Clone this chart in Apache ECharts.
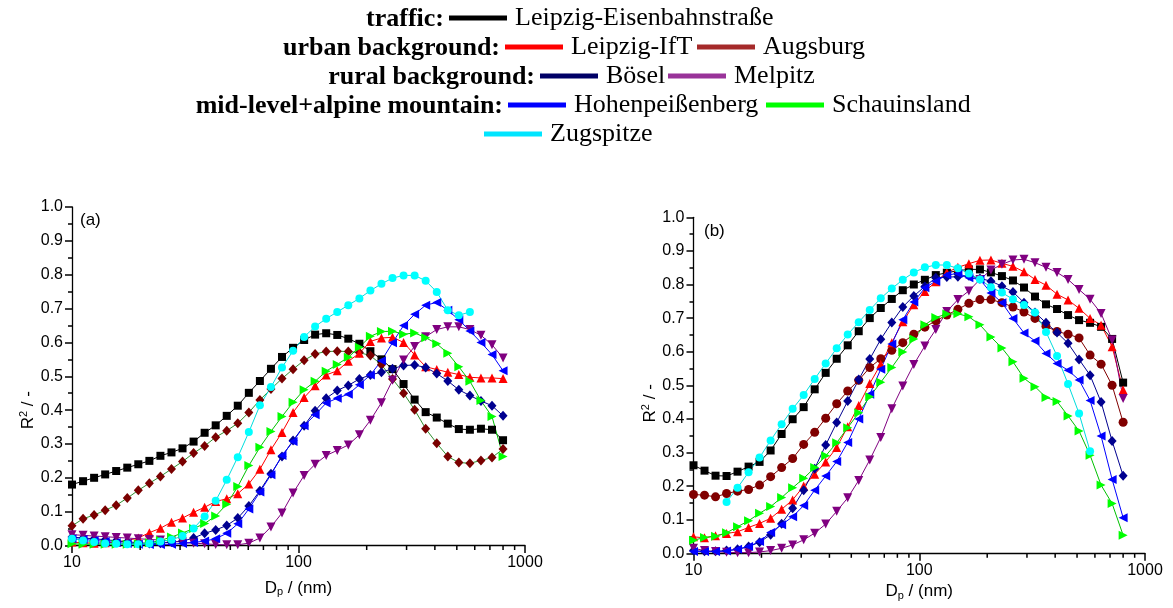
<!DOCTYPE html>
<html>
<head>
<meta charset="utf-8">
<script src="https://cdn.jsdelivr.net/npm/echarts@6/dist/echarts.min.js"></script>
<style>
html,body{margin:0;padding:0;background:#fff;}
#chart{width:1173px;height:608px;}
</style>
</head>
<body>
<div id="chart"></div>
<script>
// ---------- DATA ----------
const diameters = [10.00, 11.19, 12.52, 14.01, 15.67, 17.54, 19.62, 21.96, 24.57, 27.49, 30.76, 34.42, 38.51, 43.09, 48.21, 53.94, 60.36, 67.54, 75.57, 84.55, 94.61, 105.9, 118.4, 132.5, 148.3, 165.9, 185.7, 207.7, 232.4, 260.1, 291.0, 325.6, 364.3, 407.7, 456.2, 510.4, 571.1, 639.0, 715.0, 800.0];
const xMinorTicks = [20, 30, 40, 50, 60, 70, 80, 90, 200, 300, 400, 500, 600, 700, 800, 900];
const xTickLabels = {10:'10', 100:'100', 1000:'1000'};
const yTicks = ["0.0","0.1","0.2","0.3","0.4","0.5","0.6","0.7","0.8","0.9","1.0"];

// panel (a)
const a_eisenbahn = [0.18,0.19,0.20,0.21,0.22,0.23,0.24,0.25,0.265,0.275,0.287,0.307,0.333,0.355,0.383,0.413,0.451,0.486,0.522,0.557,0.584,0.607,0.623,0.627,0.622,0.611,0.596,0.574,0.55,0.521,0.477,0.431,0.394,0.378,0.36,0.344,0.342,0.345,0.342,0.311];
const a_ift = [0.01,0.008,0.007,0.008,0.01,0.015,0.022,0.038,0.051,0.069,0.081,0.098,0.113,0.13,0.138,0.153,0.182,0.225,0.283,0.334,0.393,0.437,0.472,0.504,0.516,0.544,0.568,0.603,0.613,0.615,0.6,0.563,0.528,0.52,0.512,0.505,0.497,0.495,0.495,0.493];
const a_augsburg = [0.058,0.079,0.09,0.104,0.119,0.14,0.163,0.184,0.204,0.226,0.248,0.273,0.294,0.32,0.339,0.361,0.393,0.43,0.462,0.493,0.521,0.547,0.566,0.573,0.574,0.573,0.57,0.561,0.534,0.492,0.45,0.401,0.345,0.302,0.263,0.245,0.243,0.251,0.26,0.285];
const a_boesel = [0.025,0.022,0.02,0.017,0.014,0.011,0.008,0.006,0.007,0.01,0.013,0.022,0.036,0.046,0.059,0.081,0.117,0.162,0.212,0.263,0.31,0.354,0.398,0.435,0.458,0.473,0.492,0.504,0.512,0.522,0.532,0.533,0.526,0.508,0.486,0.46,0.443,0.427,0.413,0.383];
const a_melpitz = [0.032,0.03,0.028,0.026,0.024,0.022,0.02,0.018,0.016,0.013,0.01,0.007,0.005,0.003,0.002,0.002,0.007,0.022,0.055,0.096,0.155,0.207,0.24,0.266,0.281,0.297,0.327,0.37,0.422,0.488,0.548,0.588,0.617,0.638,0.646,0.646,0.638,0.621,0.593,0.554];
const a_hohen = [0.02,0.018,0.015,0.012,0.009,0.006,0.004,0.003,0.003,0.004,0.006,0.009,0.013,0.02,0.036,0.064,0.108,0.158,0.209,0.266,0.307,0.354,0.386,0.421,0.435,0.447,0.475,0.504,0.546,0.599,0.65,0.683,0.71,0.718,0.695,0.667,0.634,0.6,0.564,0.516];
const a_schau = [0.005,0.004,0.004,0.004,0.004,0.004,0.005,0.008,0.015,0.025,0.037,0.05,0.065,0.087,0.122,0.174,0.236,0.29,0.337,0.381,0.423,0.46,0.485,0.515,0.535,0.556,0.586,0.618,0.632,0.633,0.624,0.628,0.614,0.596,0.568,0.528,0.485,0.428,0.381,0.263];
const a_zug = [0.02,0.015,0.01,0.006,0.005,0.004,0.004,0.006,0.012,0.017,0.028,0.05,0.086,0.132,0.194,0.261,0.335,0.414,0.468,0.526,0.575,0.616,0.647,0.67,0.69,0.71,0.73,0.753,0.773,0.79,0.798,0.798,0.782,0.749,0.695,0.68,0.69,null,null,null];

// panel (b)
const b_eisenbahn = [0.262,0.246,0.231,0.23,0.243,0.258,0.272,0.306,0.355,0.399,0.435,0.488,0.537,0.579,0.619,0.661,0.7,0.73,0.757,0.783,0.8,0.814,0.828,0.835,0.841,0.845,0.845,0.836,0.825,0.812,0.791,0.764,0.741,0.727,0.709,0.694,0.686,0.674,0.638,0.508];
const b_ift = [0.049,0.046,0.052,0.059,0.064,0.077,0.089,0.104,0.131,0.159,0.2,0.235,0.272,0.315,0.377,0.44,0.505,0.563,0.627,0.689,0.74,0.779,0.808,0.836,0.851,0.862,0.872,0.873,0.863,0.854,0.838,0.815,0.798,0.771,0.754,0.729,0.699,0.679,0.615,0.486];
const b_augsburg = [0.175,0.173,0.168,0.178,0.185,0.19,0.203,0.228,0.255,0.282,0.324,0.36,0.402,0.445,0.483,0.515,0.553,0.579,0.604,0.627,0.652,0.673,0.692,0.709,0.726,0.744,0.755,0.755,0.746,0.733,0.718,0.699,0.676,0.66,0.652,0.641,0.59,0.563,0.5,0.39];
const b_boesel = [0.008,0.006,0.006,0.008,0.012,0.02,0.033,0.055,0.088,0.134,0.188,0.252,0.322,0.389,0.453,0.517,0.578,0.637,0.687,0.733,0.766,0.794,0.82,0.822,0.823,0.826,0.818,0.81,0.795,0.778,0.746,0.717,0.686,0.657,0.625,0.577,0.53,0.45,0.334,0.231];
const b_melpitz = [0.015,0.008,0.005,0.003,0.002,0.002,0.004,0.008,0.015,0.025,0.04,0.06,0.087,0.125,0.165,0.217,0.278,0.345,0.43,0.498,0.562,0.617,0.666,0.72,0.755,0.781,0.815,0.843,0.86,0.873,0.875,0.865,0.851,0.836,0.815,0.785,0.756,0.714,0.635,0.461];
const b_hohen = [0.005,0.005,0.005,0.007,0.012,0.02,0.035,0.062,0.085,0.109,0.142,0.188,0.23,0.273,0.33,0.4,0.473,0.548,0.623,0.695,0.748,0.79,0.81,0.828,0.833,0.82,0.815,0.775,0.746,0.699,0.656,0.632,0.595,0.565,0.545,0.516,0.455,0.349,0.22,0.106];
const b_schau = [0.039,0.047,0.051,0.061,0.079,0.097,0.119,0.139,0.166,0.195,0.223,0.255,0.29,0.329,0.374,0.418,0.466,0.509,0.553,0.599,0.638,0.68,0.702,0.712,0.713,0.704,0.68,0.644,0.611,0.57,0.521,0.496,0.464,0.452,0.409,0.364,0.292,0.203,0.148,0.054];
const b_zug = [null,null,null,0.153,0.195,0.241,0.285,0.336,0.384,0.43,0.471,0.519,0.565,0.61,0.651,0.688,0.724,0.759,0.788,0.814,0.836,0.851,0.858,0.858,0.848,0.833,0.815,0.792,0.776,0.756,0.739,0.717,0.659,0.587,0.504,0.416,0.304,null,null,null];

// ---------- STYLES ----------
const S = {
  'Leipzig-Eisenbahnstraße': {sym:'rect', size:8, rot:0, color:'#000000', line:'#000000', legend:'#000000'},
  'Leipzig-IfT': {sym:'triangle', size:9, rot:0, color:'#ff0000', line:'#ff0000', legend:'#ff0000'},
  'Augsburg': {sym:'diamond', size:[9,10], rot:0, color:'#7a0000', line:'#2f8f2f', legend:'#a52a2a'},
  'Bösel': {sym:'diamond', size:[9,10], rot:0, color:'#000090', line:'#000090', legend:'#000066'},
  'Melpitz': {sym:'triangle', size:9, rot:180, color:'#800080', line:'#800080', legend:'#993399'},
  'Hohenpeißenberg': {sym:'triangle', size:9, rot:90, color:'#0000ff', line:'#0000ff', legend:'#0000ff'},
  'Schauinsland': {sym:'triangle', size:9, rot:-90, color:'#00ff00', line:'#00c000', legend:'#00ff00'},
  'Zugspitze': {sym:'circle', size:8, rot:0, color:'#00ffff', line:'#00dddd', legend:'#00e5ff'}
};
const panelA = [
  ['Leipzig-Eisenbahnstraße', a_eisenbahn], ['Augsburg', a_augsburg], ['Leipzig-IfT', a_ift],
  ['Bösel', a_boesel], ['Melpitz', a_melpitz], ['Hohenpeißenberg', a_hohen],
  ['Schauinsland', a_schau], ['Zugspitze', a_zug]
];
const panelB = [
  ['Leipzig-Eisenbahnstraße', b_eisenbahn], ['Augsburg', b_augsburg], ['Leipzig-IfT', b_ift],
  ['Bösel', b_boesel], ['Melpitz', b_melpitz], ['Hohenpeißenberg', b_hohen],
  ['Schauinsland', b_schau], ['Zugspitze', b_zug]
];

function pairs(vals){
  const out = [];
  vals.forEach((v,i)=>{ if(v!==null && v!==undefined) out.push([diameters[i], v]); });
  return out;
}
function mkSeries(list, gi, panel){
  return list.map(([name, vals])=>{
    const s = Object.assign({}, S[name]);
    if (panel==='b' && name==='Augsburg'){ s.sym='circle'; s.size=9; s.color='#800000'; s.line='#800000'; }
    return {
      type:'line', name:name, xAxisIndex:gi, yAxisIndex:gi,
      data:pairs(vals), symbol:s.sym, symbolSize:s.size, symbolRotate:s.rot,
      showSymbol:true, showAllSymbol:true, smooth:false,
      itemStyle:{color:s.color, borderWidth:0, opacity:1},
      lineStyle:{color:s.line, width:1},
      emphasis:{disabled:true}, animation:false, z:3
    };
  });
}
// minor ticks of the log x axes, placed through the axis scale
function minorTickSeries(gi){
  return {
    type:'custom', xAxisIndex:gi, yAxisIndex:gi, silent:true, clip:false, animation:false, z:10,
    data:xMinorTicks.map(v=>[v,0]), encode:{x:0, y:1},
    renderItem:function(params, api){
      const p = api.coord([api.value(0), api.value(1)]);
      return {type:'line', shape:{x1:p[0], y1:p[1], x2:p[0], y2:p[1]+4.5},
              style:{stroke:'#000', lineWidth:1.5}};
    }
  };
}

const grids = [
  {left:72, top:207, width:453, height:338.5},
  {left:693.5, top:217.3, width:451.5, height:336}
];
function xAx(gi, gap){
  return {
    type:'log', gridIndex:gi, min:10, max:1000, logBase:10,
    name:'D{sub|p} / (nm)', nameLocation:'middle', nameGap:gap,
    nameTextStyle:{fontFamily:'Liberation Sans', fontSize:17, color:'#000',
      rich:{sub:{fontSize:11, verticalAlign:'bottom', padding:[8,0,0,0], fontFamily:'Liberation Sans'}}},
    axisLine:{show:true, onZero:false, lineStyle:{color:'#000', width:1.3}},
    axisTick:{show:true, inside:false, length:7.5, lineStyle:{color:'#000', width:1.5}},
    minorTick:{show:false},
    axisLabel:{fontFamily:'Liberation Sans', fontSize:16, color:'#000', margin:9, showMaxLabel:true, showMinLabel:true,
      formatter:(v)=>xTickLabels[Math.round(v)] || ''},
    splitLine:{show:false}
  };
}
function yAx(gi, gap, pad){
  return {
    type:'value', gridIndex:gi, min:0, max:1, interval:0.1,
    name:'R{sup|2} / -', nameLocation:'middle', nameGap:gap, nameRotate:90,
    nameTextStyle:{fontFamily:'Liberation Sans', fontSize:17, color:'#000', padding:[0,pad,0,0],
      rich:{sup:{fontSize:11, verticalAlign:'top', padding:[0,0,8,0], fontFamily:'Liberation Sans'}}},
    axisLine:{show:true, lineStyle:{color:'#000', width:1.3}},
    axisTick:{show:true, inside:false, length:7, lineStyle:{color:'#000', width:1.5}},
    minorTick:{show:true, splitNumber:2, length:4, lineStyle:{color:'#000', width:1.5}},
    axisLabel:{fontFamily:'Liberation Sans', fontSize:16, color:'#000', margin:9,
      formatter:(v)=>yTicks[Math.round(v*10)]},
    splitLine:{show:false}
  };
}

// legend layout
const legendLayout = [
  {name:'Leipzig-Eisenbahnstraße', x:449, row:0},
  {name:'Leipzig-IfT', x:505, row:1},
  {name:'Augsburg', x:697, row:1},
  {name:'Bösel', x:540, row:2},
  {name:'Melpitz', x:668, row:2},
  {name:'Hohenpeißenberg', x:508, row:3},
  {name:'Schauinsland', x:766, row:3},
  {name:'Zugspitze', x:484, row:4}
];
const rowY = [19, 48, 77, 106, 135];
const groupLabels = [
  {text:'traffic:', x:444, row:0},
  {text:'urban background:', x:500, row:1},
  {text:'rural background:', x:535, row:2},
  {text:'mid-level+alpine mountain:', x:503, row:3}
];
const legends = legendLayout.map(l=>({
  left:l.x, top:rowY[l.row]-14, padding:0, orient:'horizontal',
  icon:'rect', itemWidth:58, itemHeight:5, itemGap:0, selectedMode:false,
  data:[{name:l.name, icon:'rect', itemStyle:{color:S[l.name].legend, borderWidth:0}}],
  textStyle:{fontFamily:'Liberation Serif', fontSize:26, color:'#000', padding:[0,0,0,3]}
}));
const graphics = groupLabels.map(g=>({
  type:'text', x:g.x, y:rowY[g.row],
  style:{text:g.text, x:0, y:0, textAlign:'right', textVerticalAlign:'middle',
    font:'bold 26px "Liberation Serif"', fill:'#000'}
}));
graphics.push({type:'text', x:80, y:212, style:{text:'(a)', font:'17px "Liberation Sans"', fill:'#000'}});
graphics.push({type:'text', x:704, y:223, style:{text:'(b)', font:'17px "Liberation Sans"', fill:'#000'}});

const chart = echarts.init(document.getElementById('chart'), null, {renderer:'canvas'});
chart.setOption({
  backgroundColor:'#fff', animation:false,
  grid:grids,
  xAxis:[xAx(0, 33), xAx(1, 27)],
  yAxis:[yAx(0, 33, 68), yAx(1, 30, 36)],
  legend:legends,
  graphic:graphics,
  series:[].concat(mkSeries(panelA,0,'a'), mkSeries(panelB,1,'b'), [minorTickSeries(0), minorTickSeries(1)])
});
</script>
</body>
</html>
